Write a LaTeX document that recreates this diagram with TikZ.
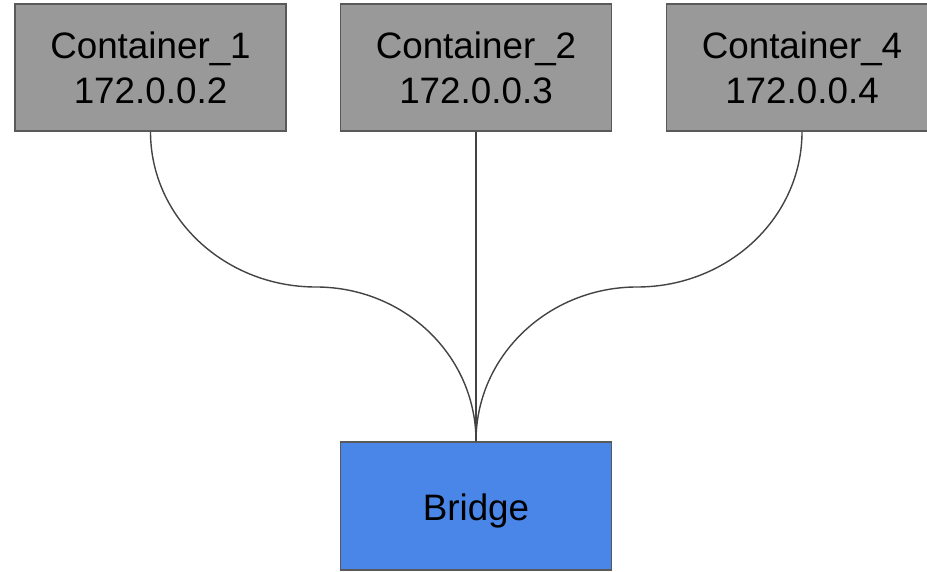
\documentclass[tikz,border=0pt]{standalone}
\usepackage{fontspec}
\setmainfont{Liberation Sans}
\definecolor{boxgray}{HTML}{999999}
\definecolor{boxline}{HTML}{595959}
\definecolor{wire}{HTML}{434343}
\definecolor{bridgeblue}{HTML}{4A86E8}
\begin{document}
\begin{tikzpicture}[x=0.5pt,y=-0.5pt,
	hostbox/.style={rectangle,draw=boxline,fill=boxgray,line width=0.75pt,
		minimum width=135.5pt,minimum height=63.5pt,inner sep=0pt,align=center,
		font=\fontsize{18.4}{22.5}\selectfont},
	bridgebox/.style={hostbox,fill=bridgeblue,minimum height=64pt},
	wire/.style={draw=wire,line width=0.7pt}]
	\useasboundingbox (0,0) rectangle (927,572);
	% containers
	\node[hostbox] (c1) at (150.5,67.5) {Container\_1\\172.0.0.2};
	\node[hostbox] (c2) at (476,67.5) {Container\_2\\172.0.0.3};
	\node[hostbox] (c4) at (802,67.5) {Container\_4\\172.0.0.4};
	% bridge
	\node[bridgebox] (br) at (476,506) {};
	\node[font=\fontsize{18.4}{22.5}\selectfont] (brlabel) at (476,511) {Bridge};
	\coordinate (m1) at (316,287);
	\coordinate (m4) at (637,287);
	% links
	\draw[wire] (c1.south) .. controls +(0,86) and +(-91,0) .. (m1)
		.. controls +(88,0) and +(0,-86) .. (br.north);
	\draw[wire] (c2.south) -- (br.north);
	\draw[wire] (c4.south) .. controls +(0,86) and +(91,0) .. (m4)
		.. controls +(-88,0) and +(0,-86) .. (br.north);
\end{tikzpicture}
\end{document}
